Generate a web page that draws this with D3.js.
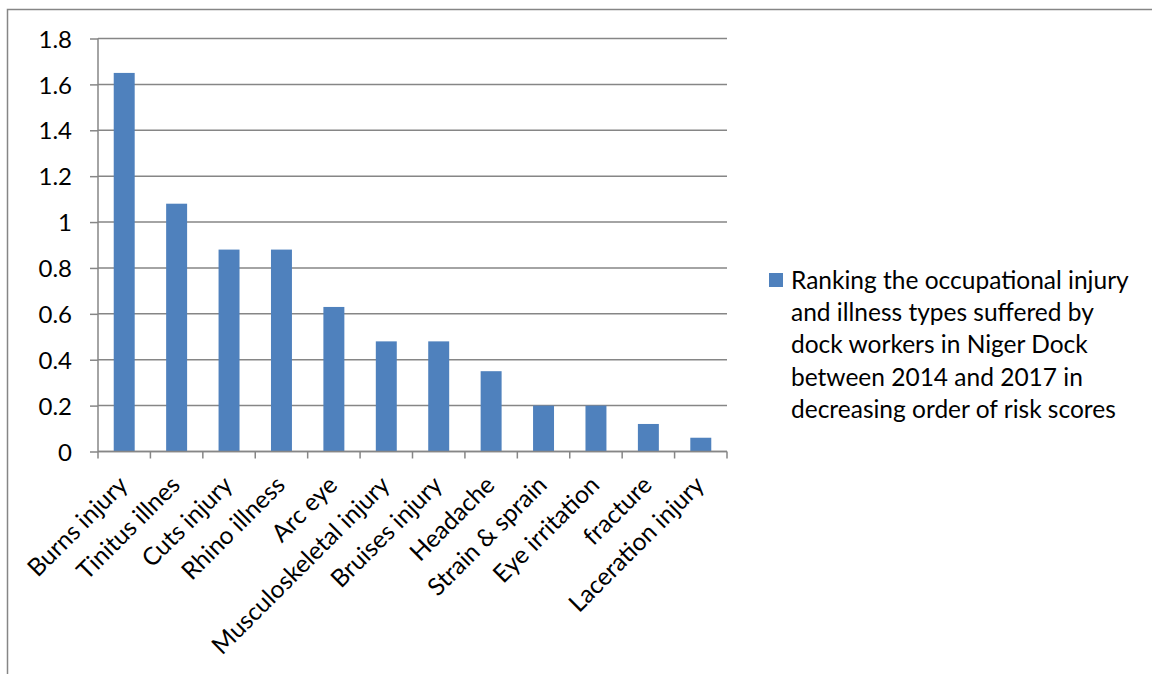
<!DOCTYPE html>
<html><head><meta charset="utf-8">
<script src="https://cdn.jsdelivr.net/npm/d3@7"></script>
<style>body{margin:0;background:#fff;}svg{display:block;font-family:Lato,"Open Sans",sans-serif;}</style>
</head><body>
<svg id="c" width="1152" height="674"></svg>
<script>
const categories = ["Burns injury","Tinitus illnes","Cuts injury","Rhino illness","Arc eye","Musculoskeletal injury","Bruises injury","Headache","Strain & sprain","Eye irritation","fracture","Laceration injury"];
const values = [1.65,1.08,0.88,0.88,0.63,0.48,0.48,0.35,0.2,0.2,0.12,0.06];
const yTicks = [0,0.2,0.4,0.6,0.8,1,1.2,1.4,1.6,1.8];
const legendLines = ["Ranking the occupational injury","and illness types suffered by","dock workers in Niger Dock","between 2014 and 2017 in","decreasing order of risk scores"];

const svg = d3.select("#c");
const gray = "#868686";
const fs = 24.5;
// chart border
svg.append("rect").attr("x",7.5).attr("y",9.5).attr("width",1160).attr("height",700)
  .attr("fill","none").attr("stroke",gray).attr("stroke-width",1.5);

const L=98, R=727, T=38.5, B=451.5;
const x = d3.scaleBand().domain(categories).range([L,R]).paddingInner(0.6).paddingOuter(0.3);
const y = d3.scaleLinear().domain([0,1.8]).range([B,T]);

// gridlines + y ticks
const ya = d3.axisLeft(y).tickValues(yTicks).tickSize(8).tickFormat(d=>String(d));
const gy = svg.append("g").attr("transform",`translate(${L},0)`).call(ya);
gy.select(".domain").remove();
gy.selectAll(".tick line").attr("stroke",gray).attr("stroke-width",1.5);
gy.selectAll(".tick text").attr("font-size",24).attr("fill","#000").attr("x",-26).attr("dy","0.36em").attr("font-family","Lato");
svg.append("g").selectAll("line").data(yTicks).join("line")
  .attr("x1",L).attr("x2",R).attr("y1",d=>y(d)).attr("y2",d=>y(d))
  .attr("stroke",gray).attr("stroke-width",1.5);
svg.append("line").attr("x1",L).attr("x2",L).attr("y1",T).attr("y2",B).attr("stroke",gray).attr("stroke-width",1.5);

// bars
svg.append("g").selectAll("rect").data(values).join("rect")
  .attr("x",(d,i)=>x(categories[i])).attr("width",x.bandwidth())
  .attr("y",d=>y(d)).attr("height",d=>B-y(d)).attr("fill","#4F81BD");

// x axis line + boundary ticks
svg.append("line").attr("x1",L).attr("x2",R).attr("y1",B).attr("y2",B).attr("stroke",gray).attr("stroke-width",1.5);
const step = (R-L)/categories.length;
const bounds = d3.range(categories.length+1).map(i=>L+i*step);
svg.append("g").selectAll("line").data(bounds).join("line")
  .attr("x1",d=>d).attr("x2",d=>d).attr("y1",B).attr("y2",B+7).attr("stroke",gray).attr("stroke-width",1.5);

// x labels
svg.append("g").selectAll("text").data(categories).join("text")
  .attr("transform",d=>`translate(${x(d)+x.bandwidth()/2+5},${B+35}) rotate(-45)`)
  .attr("text-anchor","end").attr("font-size",fs).text(d=>d);

// legend
const lg = svg.append("g");
lg.append("rect").attr("x",769).attr("y",273).attr("width",14).attr("height",14).attr("fill","#4F81BD");
lg.selectAll("text").data(legendLines).join("text")
  .attr("x",791).attr("y",(d,i)=>289+i*32.2).attr("font-size",fs).text(d=>d);
</script>
</body></html>
